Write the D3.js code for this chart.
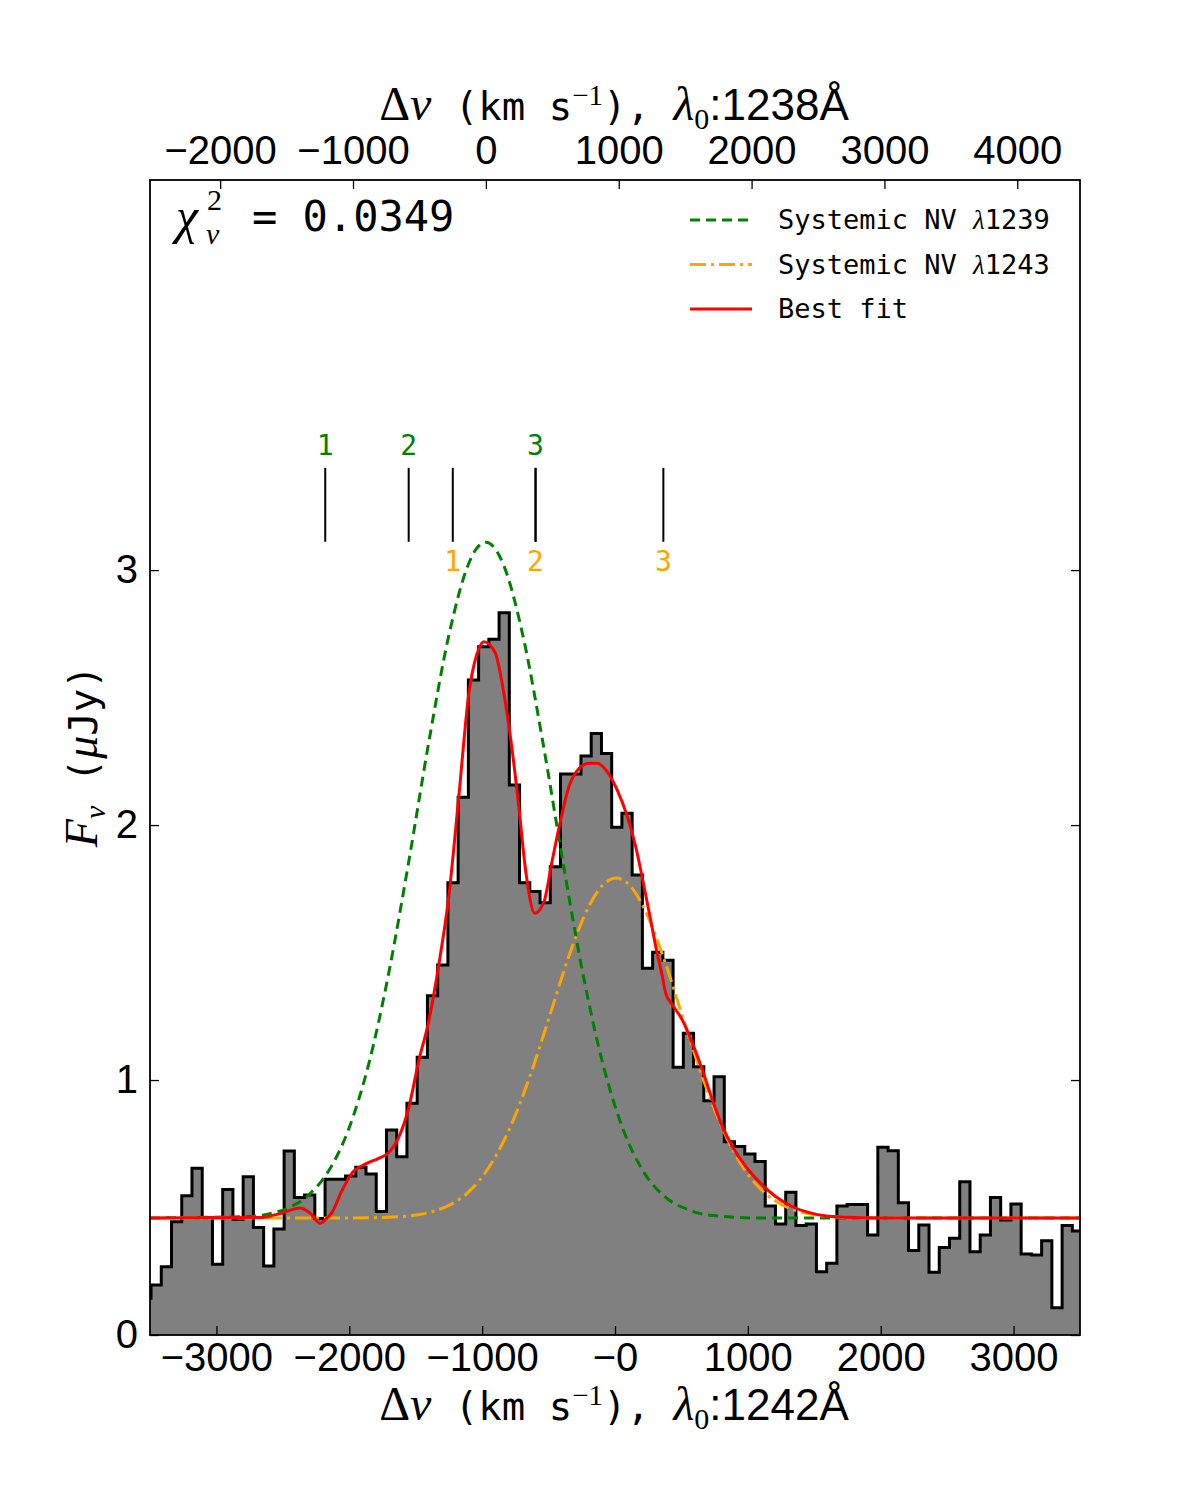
<!DOCTYPE html>
<html>
<head>
<meta charset="utf-8">
<script src="https://cdn.jsdelivr.net/npm/d3@7"></script>
<style>
  body { margin: 0; background: #fff; }
  .tick text { font-family: "Liberation Sans", Arial, sans-serif; font-size: 40px; fill: #000; }
  .tick line { stroke: #000; stroke-width: 1.3; }
</style>
</head>
<body>
<div id="chart"></div>
<script>
// histogram bins (Delta v, km/s, relative to 1242 A)
const binStart = -3569.25;
const binWidth = 77.05;
const fluxBins = [0.144, 0.196, 0.268, 0.444, 0.546, 0.654, 0.461, 0.277, 0.571, 0.454,
  0.621, 0.422, 0.271, 0.416, 0.722, 0.539, 0.549, 0.457, 0.611, 0.611,
  0.624, 0.658, 0.631, 0.484, 0.804, 0.699, 0.909, 1.089, 1.331, 1.451,
  1.774, 2.109, 2.569, 2.699, 2.729, 2.833, 2.157, 1.774, 1.739, 1.695,
  1.837, 2.200, 2.200, 2.271, 2.359, 2.281, 1.991, 2.046, 1.804, 1.438,
  1.501, 1.470, 1.050, 1.183, 1.052, 0.919, 1.013, 0.758, 0.739, 0.710,
  0.680, 0.506, 0.435, 0.560, 0.429, 0.435, 0.248, 0.281, 0.506, 0.512,
  0.512, 0.392, 0.736, 0.723, 0.519, 0.331, 0.431, 0.246, 0.343, 0.379,
  0.601, 0.327, 0.392, 0.539, 0.451, 0.514, 0.318, 0.314, 0.370, 0.107,
  0.429, 0.408];

// Systemic NV 1239 component
const greenV = [-3500, -2759, -2608, -2457, -2307, -2156, -2005, -1854, -1704, -1553, -1402, -1251, -1100,
  -1040, -972, -905, -837, -686, -535, -384, -234, -83, 68, 219, 369, 558, 784, 1085, 3500];
const greenF = [0.459, 0.465, 0.475, 0.499, 0.549, 0.643, 0.807, 1.062, 1.417, 1.855, 2.324, 2.743, 3.027,
  3.086, 3.109, 3.086, 3.018, 2.726, 2.301, 1.831, 1.397, 1.047, 0.797, 0.637, 0.545, 0.490, 0.466, 0.459, 0.459];

// Systemic NV 1243 component
const orangeV = [-3500, -2005, -1628, -1402, -1251, -1100, -950, -799, -648, -497, -347, -196, -83, 8,
  106, 219, 369, 520, 671, 822, 972, 1123, 1274, 1425, 1651, 1990, 3500];
const orangeF = [0.459, 0.459, 0.464, 0.480, 0.508, 0.562, 0.657, 0.803, 1.003, 1.243, 1.486, 1.682, 1.769, 1.792,
  1.766, 1.674, 1.474, 1.230, 0.992, 0.795, 0.651, 0.559, 0.506, 0.479, 0.464, 0.459, 0.459];

// best fit
const fitV = [-3500, -2646, -2570, -2495, -2442, -2374, -2294, -2218, -2181, -2131, -2056, -1980, -1879,
  -1779, -1704, -1628, -1553, -1477, -1402, -1327, -1251, -1176, -1100, -1038, -987, -905, -824,
  -774, -724, -673, -603, -535, -473, -409, -347, -271, -196, -133, -58, 17, 93, 156, 219, 269,
  307, 357, 382, 432, 507, 583, 658, 733, 809, 884, 985, 1085, 1211, 1336, 1462, 1588, 1739, 1990, 3500];
const fitF = [0.459, 0.461, 0.470, 0.480, 0.490, 0.498, 0.478, 0.438, 0.452, 0.480, 0.565, 0.635, 0.670,
  0.693, 0.715, 0.775, 0.890, 1.075, 1.230, 1.450, 1.720, 2.110, 2.516, 2.673, 2.719, 2.680, 2.477,
  2.294, 2.072, 1.824, 1.654, 1.699, 1.860, 2.020, 2.150, 2.222, 2.242, 2.242, 2.209, 2.137, 2.033, 1.915, 1.758, 1.627,
  1.523, 1.405, 1.340, 1.295, 1.235, 1.144, 1.039, 0.922, 0.817, 0.739, 0.660, 0.601, 0.542, 0.503, 0.480, 0.467, 0.462, 0.459, 0.459];

// absorber markers
const markerGreenV = [-2181, -1553, -598];
const markerOrangeV = [-1221, -598, 364];
const markerLabels = ["1", "2", "3"];
const markerRange = [3.111, 3.401];

const bottomTicks = [-3000, -2000, -1000, 0, 1000, 2000, 3000];
const topTicks = [-2000, -1000, 0, 1000, 2000, 3000, 4000];
const yTicks = [0, 1, 2, 3];
const topOffset = 972; // 1238 A frame vs 1242 A frame

const legendItems = [
  { name: "Systemic NV ", lam: "1239", color: "green", dash: "10,6" },
  { name: "Systemic NV ", lam: "1243", color: "orange", dash: "16,5,3,5" },
  { name: "Best fit", lam: null, color: "red", dash: null }
];

const margin = { top: 180, right: 120, bottom: 165, left: 150 },
  fullWidth = 1200, fullHeight = 1500,
  width = fullWidth - margin.left - margin.right,
  height = fullHeight - margin.top - margin.bottom;

const svg = d3.select("#chart").append("svg")
  .attr("width", fullWidth).attr("height", fullHeight);
const g = svg.append("g").attr("transform", `translate(${margin.left},${margin.top})`);

const x = d3.scaleLinear().domain([-3500, 3500]).range([0, width]);
const xTop = d3.scaleLinear().domain([-3500 + topOffset, 3500 + topOffset]).range([0, width]);
const y = d3.scaleLinear().domain([0, 4.53]).range([height, 0]);

svg.append("defs").append("clipPath").attr("id", "plot-clip")
  .append("rect").attr("width", width).attr("height", height);

const plot = g.append("g").attr("clip-path", "url(#plot-clip)");

// histogram
const histPts = fluxBins.map((f, i) => [binStart + i * binWidth, f]);
histPts.push([binStart + fluxBins.length * binWidth, fluxBins[fluxBins.length - 1]]);

plot.append("path")
  .datum(histPts)
  .attr("fill", "#808080")
  .attr("d", d3.area().curve(d3.curveStepAfter).x(d => x(d[0])).y0(y(0)).y1(d => y(d[1])));
plot.append("path")
  .datum(histPts)
  .attr("fill", "none").attr("stroke", "#000").attr("stroke-width", 3)
  .attr("d", d3.line().curve(d3.curveStepAfter).x(d => x(d[0])).y(d => y(d[1])));

const curve = d3.line().curve(d3.curveMonotoneX).x(d => x(d[0])).y(d => y(d[1]));

plot.append("path")
  .datum(greenV.map((v, i) => [v, greenF[i]]))
  .attr("fill", "none").attr("stroke", "green").attr("stroke-width", 3)
  .attr("stroke-dasharray", "10,6").attr("d", curve);
plot.append("path")
  .datum(orangeV.map((v, i) => [v, orangeF[i]]))
  .attr("fill", "none").attr("stroke", "orange").attr("stroke-width", 3)
  .attr("stroke-dasharray", "16,5,3,5").attr("d", curve);
plot.append("path")
  .datum(fitV.map((v, i) => [v, fitF[i]]))
  .attr("fill", "none").attr("stroke", "red").attr("stroke-width", 3)
  .attr("d", curve);

// markers
const markFont = '"DejaVu Sans Mono", monospace';
[markerGreenV, markerOrangeV].forEach((arr, k) => {
  arr.forEach((v, i) => {
    g.append("line")
      .attr("x1", x(v)).attr("x2", x(v))
      .attr("y1", y(markerRange[0])).attr("y2", y(markerRange[1]))
      .attr("stroke", "#000").attr("stroke-width", 2);
    g.append("text")
      .attr("x", x(v))
      .attr("y", k === 0 ? y(markerRange[1]) - 13 : y(markerRange[0]) + 29)
      .attr("text-anchor", "middle")
      .style("font-family", markFont).style("font-size", "28px")
      .style("fill", k === 0 ? "green" : "orange")
      .text(markerLabels[i]);
  });
});

// axes
const fmt = d => (d === 0 ? "\u22120" : d3.format("d")(d).replace("-", "\u2212"));
g.append("g").attr("transform", `translate(0,${height})`)
  .call(d3.axisBottom(x).tickValues(bottomTicks).tickSize(-9).tickPadding(8).tickFormat(fmt))
  .call(a => a.select(".domain").remove());
g.append("g")
  .call(d3.axisTop(xTop).tickValues(topTicks).tickSize(-9).tickPadding(16)
    .tickFormat(d => d3.format("d")(d).replace("-", "\u2212")))
  .call(a => a.select(".domain").remove());
g.append("g")
  .call(d3.axisLeft(y).tickValues(yTicks).tickSize(-9).tickPadding(12).tickFormat(d3.format("d")))
  .call(a => a.select(".domain").remove());
g.append("g").attr("transform", `translate(${width},0)`)
  .call(d3.axisRight(y).tickValues(yTicks).tickSize(-9).tickFormat(""))
  .call(a => a.select(".domain").remove());

g.append("rect")
  .attr("width", width).attr("height", height)
  .attr("fill", "none").attr("stroke", "#000").attr("stroke-width", 1.8);

// axis titles
const serif = '"Liberation Serif", "DejaVu Serif", serif';
const mono = '"DejaVu Sans Mono", monospace';
const sans = '"Liberation Sans", Arial, sans-serif';

function velTitle(yPos, lam) {
  const t = svg.append("text")
    .attr("x", margin.left + width / 2 - 1).attr("y", yPos)
    .attr("text-anchor", "middle");
  t.append("tspan").style("font-family", serif).style("font-size", "48px").text("\u0394");
  t.append("tspan").style("font-family", serif).style("font-style", "italic").style("font-size", "48px").text("v");
  t.append("tspan").style("font-family", mono).style("font-size", "39px").text(" (km s");
  t.append("tspan").attr("dy", -15).style("font-family", serif).style("font-size", "29px").text("\u22121");
  t.append("tspan").attr("dy", 15).style("font-family", mono).style("font-size", "39px").text("), ");
  t.append("tspan").style("font-family", serif).style("font-style", "italic").style("font-size", "48px").text("\u03bb");
  t.append("tspan").attr("dy", 9).style("font-family", serif).style("font-size", "30px").text("0");
  t.append("tspan").attr("dy", -9).style("font-family", sans).style("font-size", "44px").text(":" + lam + "\u00c5");
}
velTitle(120, "1238");
velTitle(1420, "1242");

const yl = svg.append("text")
  .attr("transform", `translate(97,${margin.top + y(2.27)}) rotate(-90)`)
  .attr("text-anchor", "middle");
yl.append("tspan").style("font-family", serif).style("font-style", "italic").style("font-size", "46px").text("F");
yl.append("tspan").attr("dy", 8).style("font-family", serif).style("font-style", "italic").style("font-size", "30px").text("\u03bd");
yl.append("tspan").attr("dy", -8).style("font-family", mono).style("font-size", "39px").text(" (");
yl.append("tspan").style("font-family", serif).style("font-style", "italic").style("font-size", "46px").text("\u03bc");
yl.append("tspan").style("font-family", mono).style("font-size", "39px").text("Jy)");

// chi^2 annotation
const chi = svg.append("g");
chi.append("text").attr("x", 176).attr("y", 233)
  .style("font-family", serif).style("font-style", "italic").style("font-size", "50px").text("\u03c7");
chi.append("text").attr("x", 207).attr("y", 210)
  .style("font-family", serif).style("font-size", "30px").text("2");
chi.append("text").attr("x", 206).attr("y", 244)
  .style("font-family", serif).style("font-style", "italic").style("font-size", "30px").text("\u03bd");
chi.append("text").attr("x", 252).attr("y", 231)
  .style("font-family", mono).style("font-size", "42px").text("= 0.0349");

// legend
const legend = svg.append("g").attr("transform", "translate(690,220)");
legendItems.forEach((d, i) => {
  const row = legend.append("g").attr("transform", `translate(0,${i * 44.5})`);
  row.append("line").attr("x1", 0).attr("x2", 62).attr("y1", 0).attr("y2", 0)
    .attr("stroke", d.color).attr("stroke-width", 3)
    .attr("stroke-dasharray", d.dash);
  const t = row.append("text").attr("x", 88).attr("y", 9)
    .style("font-family", mono).style("font-size", "27px");
  t.append("tspan").text(d.name);
  if (d.lam) {
    t.append("tspan").style("font-family", serif).style("font-style", "italic").text("\u03bb");
    t.append("tspan").text(d.lam);
  }
});
</script>
</body>
</html>
